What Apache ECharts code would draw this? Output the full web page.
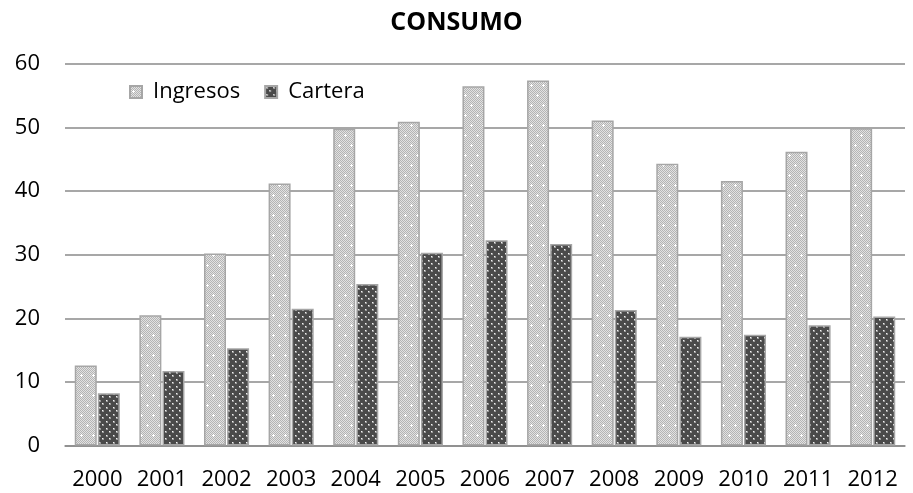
<!DOCTYPE html>
<html>
<head>
<meta charset="utf-8">
<title>CONSUMO</title>
<script src="https://cdn.jsdelivr.net/npm/echarts@6/dist/echarts.min.js"></script>
<style>
	html, body { margin: 0; padding: 0; background: #fff; }
	#chart { width: 913px; height: 493px; }
</style>
</head>
<body>
<div id="chart"></div>
<script>
var years = ["2000", "2001", "2002", "2003", "2004", "2005", "2006", "2007", "2008", "2009", "2010", "2011", "2012"];
var ingresos = [12.6, 20.5, 30.2, 41.2, 49.8, 50.9, 56.5, 57.4, 51.1, 44.3, 41.6, 46.2, 49.9];
var cartera = [8.2, 11.7, 15.3, 21.5, 25.4, 30.3, 32.3, 31.7, 21.3, 17.1, 17.4, 18.9, 20.3];
var yTicks = [0, 10, 20, 30, 40, 50, 60];

var fontName = "'Open Sans', 'Liberation Sans', sans-serif";

// trama clara con puntitos y cruces blancas
function lightPattern() {
	var c = document.createElement("canvas");
	c.width = 12;
	c.height = 20;
	var ctx = c.getContext("2d");
	for(var y = 0; y < c.height; y++) {
		for(var x = 0; x < c.width; x++) {
			ctx.fillStyle = ((x + y) % 2 == 0) ? "#b4b4b4" : "#e2e2e2";
			ctx.fillRect(x, y, 1, 1);
		}
	}
	ctx.fillStyle = "#ffffff";
	var pts = [[3, 5], [9, 15]];
	for(var i = 0; i < pts.length; i++) {
		var px = pts[i][0], py = pts[i][1];
		ctx.fillRect(px - 1, py, 3, 1);
		ctx.fillRect(px, py - 1, 1, 3);
	}
	return c;
}

// trama oscura con puntos blancos
function darkPattern() {
	var c = document.createElement("canvas");
	c.width = 7;
	c.height = 7;
	var ctx = c.getContext("2d");
	ctx.fillStyle = "#4a4a4a";
	ctx.fillRect(0, 0, 7, 7);
	var pts = [[1, 1], [4, 4]];
	for(var i = 0; i < pts.length; i++) {
		ctx.fillStyle = "#9a9a9a";
		ctx.fillRect(pts[i][0], pts[i][1], 2, 2);
		ctx.fillStyle = "#f4f4f4";
		ctx.fillRect(pts[i][0], pts[i][1], 1, 1);
	}
	return c;
}

var myChart = echarts.init(document.getElementById("chart"), null, { renderer: "canvas" });

var option = {
	animation: false,
	backgroundColor: "#ffffff",
	title: {
		text: "CONSUMO",
		left: "center",
		top: 5,
		textStyle: {
			fontFamily: fontName,
			fontWeight: "bold",
			fontSize: 25,
			color: "#000"
		}
	},
	legend: {
		left: 129,
		top: 81,
		padding: 0,
		icon: "rect",
		itemWidth: 12,
		itemHeight: 12,
		itemGap: 24,
		textStyle: {
			fontFamily: fontName,
			fontSize: 22,
			color: "#000",
			padding: [0, 0, 0, 6]
		},
		data: ["Ingresos", "Cartera"]
	},
	grid: {
		left: 65,
		right: 8,
		top: 64,
		bottom: 47.5,
		containLabel: false
	},
	xAxis: {
		type: "category",
		data: years,
		axisLine: {
			show: true,
			lineStyle: { color: "#8a8a8a", width: 1.5 }
		},
		axisTick: { show: false },
		axisLabel: {
			interval: 0,
			margin: 23,
			fontFamily: fontName,
			fontSize: 22,
			color: "#000"
		}
	},
	yAxis: {
		type: "value",
		min: yTicks[0],
		max: yTicks[yTicks.length - 1],
		interval: 10,
		axisLine: { show: false },
		axisTick: { show: false },
		axisLabel: {
			margin: 25,
			fontFamily: fontName,
			fontSize: 22,
			color: "#000"
		},
		splitLine: {
			show: true,
			lineStyle: { color: "#8a8a8a", width: 1.5 }
		}
	},
	series: [{
		name: "Ingresos",
		type: "bar",
		barWidth: 22,
		barGap: "5%",
		itemStyle: {
			color: { image: lightPattern(), repeat: "repeat" },
			borderColor: "#a6a6a6",
			borderWidth: 1.5
		},
		data: ingresos
	}, {
		name: "Cartera",
		type: "bar",
		barWidth: 22,
		barGap: "5%",
		itemStyle: {
			color: { image: darkPattern(), repeat: "repeat" },
			borderColor: "#a6a6a6",
			borderWidth: 1.5
		},
		data: cartera
	}]
};

myChart.setOption(option);
</script>
</body>
</html>
